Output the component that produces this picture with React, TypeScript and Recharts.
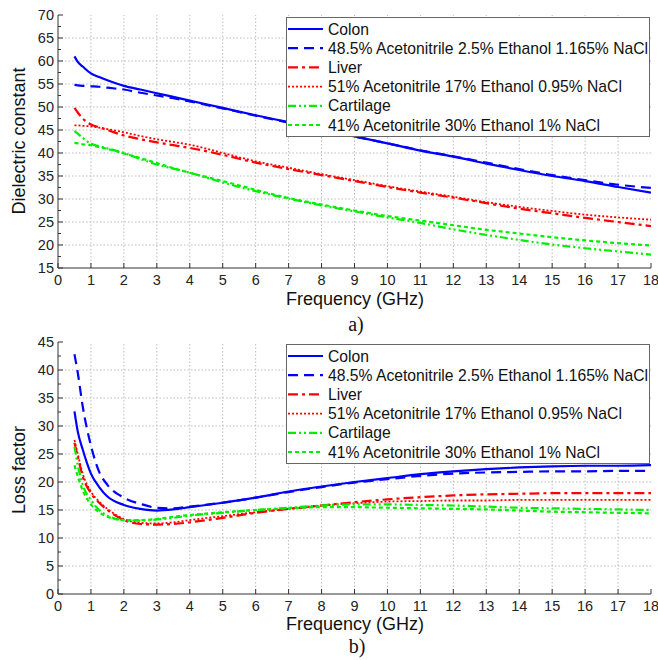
import React from 'react';
import { LineChart, Line, XAxis, YAxis, ReferenceLine } from 'recharts';

// frequency samples (GHz), shared by both panels
const FREQ = [0.5, 0.6, 0.75, 1, 1.25, 1.5, 2, 2.5, 3, 3.5, 4, 5, 6, 7, 8, 9, 10, 11, 12, 13, 14, 15, 16, 17, 18];

const X_TICKS = [0, 1, 2, 3, 4, 5, 6, 7, 8, 9, 10, 11, 12, 13, 14, 15, 16, 17, 18];
const EPS_TICKS = [15, 17.5, 20, 22.5, 25, 27.5, 30, 32.5, 35, 37.5, 40, 42.5, 45, 47.5, 50, 52.5, 55, 57.5, 60, 62.5, 65, 67.5, 70];
const LOSS_TICKS = [0, 2.5, 5, 7.5, 10, 12.5, 15, 17.5, 20, 22.5, 25, 27.5, 30, 32.5, 35, 37.5, 40, 42.5, 45];

// a) dielectric constant
const EPS_COLON = [61, 59.8, 58.8, 57.3, 56.5, 55.8, 54.6, 53.8, 53.0, 52.2, 51.4, 49.8, 48.2, 46.7, 45.1, 43.6, 42.1, 40.5, 39.2, 37.7, 36.3, 35.0, 33.9, 32.6, 31.4];
const EPS_COLON_PH = [54.8, 54.7, 54.6, 54.5, 54.4, 54.2, 53.8, 53.1, 52.5, 51.9, 51.2, 49.7, 48.1, 46.6, 45.1, 43.6, 42.1, 40.6, 39.3, 37.9, 36.5, 35.2, 34.1, 33.1, 32.4];
const EPS_LIVER = [49.8, 48.8, 47.5, 46.2, 45.6, 45, 43.8, 43, 42.3, 41.7, 41.1, 39.6, 37.9, 36.5, 35.2, 33.9, 32.6, 31.4, 30.3, 29.1, 27.9, 26.9, 25.9, 25.0, 24.1];
const EPS_LIVER_PH = [46, 46, 45.9, 45.8, 45.5, 45.2, 44.5, 43.7, 43, 42.4, 41.8, 40, 38.2, 36.8, 35.4, 34.1, 32.8, 31.6, 30.5, 29.3, 28.3, 27.4, 26.6, 26, 25.5];
const EPS_CART = [44.8, 44.2, 43.3, 42, 41.5, 41, 40, 38.7, 37.5, 36.6, 35.7, 33.6, 31.7, 30.1, 28.6, 27.3, 26, 24.8, 23.4, 22.2, 21.1, 20.1, 19.3, 18.6, 17.9];
const EPS_CART_PH = [42.2, 42.1, 41.9, 41.7, 41.3, 40.9, 39.9, 38.9, 37.8, 36.7, 35.7, 33.9, 32, 30.2, 28.8, 27.5, 26.3, 25.3, 24.3, 23.3, 22.5, 21.7, 21, 20.4, 19.9];

// b) loss factor
const LOSS_COLON = [32.6, 29, 25.8, 21.5, 19.1, 17.4, 15.9, 15.2, 14.9, 15.1, 15.5, 16.3, 17.2, 18.3, 19.2, 20, 20.7, 21.4, 21.9, 22.3, 22.6, 22.8, 22.9, 22.9, 23.0];
const LOSS_COLON_PH = [42.8, 39.5, 33.5, 26.5, 21.8, 19.5, 17.2, 16.1, 15.4, 15.3, 15.6, 16.3, 17.2, 18.2, 19.1, 19.9, 20.5, 21.1, 21.5, 21.7, 21.8, 21.9, 21.9, 22, 22];
const LOSS_LIVER = [27, 24.5, 21, 18, 16.3, 15, 13.2, 12.5, 12.4, 12.5, 12.8, 13.6, 14.5, 15.2, 15.8, 16.4, 16.9, 17.3, 17.6, 17.8, 17.9, 18, 18, 18, 18];
const LOSS_LIVER_PH = [27.5, 25, 21.5, 18.3, 16.5, 15.2, 13.4, 12.7, 12.6, 12.8, 13.2, 13.9, 14.6, 15.2, 15.8, 16.2, 16.5, 16.6, 16.7, 16.7, 16.8, 16.8, 16.8, 16.8, 16.8];
const LOSS_CART = [26.3, 23, 19.5, 16.8, 15, 14, 13.2, 13.1, 13.3, 13.6, 14, 14.5, 15, 15.4, 15.8, 16, 16, 15.9, 15.8, 15.6, 15.4, 15.3, 15.2, 15.1, 15];
const LOSS_CART_PH = [23, 21, 18.5, 16, 14.6, 13.8, 13.2, 13.2, 13.4, 13.8, 14.1, 14.6, 15, 15.3, 15.5, 15.5, 15.4, 15.3, 15.2, 15.1, 14.9, 14.7, 14.6, 14.5, 14.4];

const NAMES = [
  'Colon',
  '48.5% Acetonitrile 2.5% Ethanol 1.165% NaCl',
  'Liver',
  '51% Acetonitrile 17% Ethanol 0.95% NaCl',
  'Cartilage',
  '41% Acetonitrile 30% Ethanol 1% NaCl',
];

const SERIES = [
  { key: 's0', color: '#0000ff', dash: undefined, width: 2.2 },
  { key: 's1', color: '#0000ff', dash: '10 6', width: 2.2 },
  { key: 's2', color: '#ff0000', dash: '10 4 3 4', width: 2.2 },
  { key: 's3', color: '#ff0000', dash: '2 2', width: 1.8 },
  { key: 's4', color: '#00ee00', dash: '8 3 2 3 2 3', width: 2.2 },
  { key: 's5', color: '#00ee00', dash: '4 3', width: 2.2 },
];

const buildRows = (cols: number[][]) =>
  FREQ.map((f, i) => {
    const row: Record<string, number> = { f };
    cols.forEach((c, j) => (row['s' + j] = c[i]));
    return row;
  });

const EPS_DATA = buildRows([EPS_COLON, EPS_COLON_PH, EPS_LIVER, EPS_LIVER_PH, EPS_CART, EPS_CART_PH]);
const LOSS_DATA = buildRows([LOSS_COLON, LOSS_COLON_PH, LOSS_LIVER, LOSS_LIVER_PH, LOSS_CART, LOSS_CART_PH]);

const FONT = '"Liberation Sans", Arial, sans-serif';
const AXIS = '#333';
const GRID = '#bdbdbd';
const TICK_FS = 14.5;

const BottomTick = ({ x, y, payload }: any) => (
  <g>
    <line x1={x} x2={x} y1={y} y2={y - 5} stroke={AXIS} />
    <text x={x} y={y + 17} textAnchor="middle" fontSize={TICK_FS} fontFamily={FONT} fill="#222">
      {payload.value}
    </text>
  </g>
);

const TopTick = ({ x, y }: any) => <line x1={x} x2={x} y1={y} y2={y + 5} stroke={AXIS} />;

const LeftTick = ({ x, y, payload }: any) => {
  const major = payload.value % 5 === 0;
  return (
    <g>
      <line x1={x} x2={x + (major ? 5 : 3)} y1={y} y2={y} stroke={AXIS} />
      {major && (
        <text x={x - 4} y={y + 5} textAnchor="end" fontSize={TICK_FS} fontFamily={FONT} fill="#222">
          {payload.value}
        </text>
      )}
    </g>
  );
};

const RightTick = ({ x, y, payload }: any) => {
  const major = payload.value % 5 === 0;
  return <line x1={x} x2={x - (major ? 5 : 3)} y1={y} y2={y} stroke={AXIS} />;
};

// legend box drawn as svg so its frame is crisp
const LegendBox = ({ top }: { top: number }) => (
  <svg width={364} height={120} style={{ position: 'absolute', left: 286, top }}>
    <rect x={0.5} y={0.5} width={363} height={119} fill="#fff" stroke="#666" />
    {SERIES.map((s, i) => {
      const cy = 12 + i * 19.2;
      return (
        <g key={s.key}>
          <line x1={2} x2={37} y1={cy} y2={cy} stroke={s.color} strokeWidth={s.width} strokeDasharray={s.dash} />
          <text x={42} y={cy + 5.5} fontSize={15.7} fontFamily={FONT} fill="#111">
            {NAMES[i]}
          </text>
        </g>
      );
    })}
  </svg>
);

type PanelProps = {
  data: Record<string, number>[];
  yTicks: number[];
  yDomain: [number, number];
  marginTop: number;
  xHeight: number;
};

const Panel = ({ data, yTicks, yDomain, marginTop, xHeight }: PanelProps) => {
  const majorY = yTicks.filter((v) => v % 5 === 0 && v !== yDomain[0] && v !== yDomain[1]);
  const majorX = X_TICKS.filter((v) => v !== 0 && v !== 18);
  return (
    <LineChart width={658} height={330} data={data} margin={{ top: marginTop, right: 7, left: 0, bottom: 0 }}>
      <XAxis
        dataKey="f"
        type="number"
        domain={[0, 18]}
        ticks={X_TICKS}
        interval={0}
        height={xHeight}
        tickSize={0}
        tickMargin={0}
        tickLine={false}
        tick={<BottomTick />}
        axisLine={{ stroke: AXIS }}
        allowDataOverflow
      />
      <XAxis
        xAxisId="top"
        orientation="top"
        type="number"
        domain={[0, 18]}
        ticks={X_TICKS}
        interval={0}
        height={0}
        tickSize={0}
        tickMargin={0}
        tickLine={false}
        tick={<TopTick />}
        axisLine={{ stroke: AXIS }}
        allowDataOverflow
      />
      <YAxis
        type="number"
        domain={yDomain}
        ticks={yTicks}
        interval={0}
        width={58}
        tickSize={0}
        tickMargin={0}
        tickLine={false}
        tick={<LeftTick />}
        axisLine={{ stroke: AXIS }}
        allowDataOverflow
      />
      <YAxis
        yAxisId="right"
        orientation="right"
        type="number"
        domain={yDomain}
        ticks={yTicks}
        interval={0}
        width={0}
        tickSize={0}
        tickMargin={0}
        tickLine={false}
        tick={<RightTick />}
        axisLine={{ stroke: AXIS }}
        allowDataOverflow
      />
      {majorX.map((v) => (
        <ReferenceLine key={'x' + v} x={v} stroke={GRID} strokeDasharray="1.5 2" />
      ))}
      {majorY.map((v) => (
        <ReferenceLine key={'y' + v} y={v} stroke={GRID} strokeDasharray="1.5 2" />
      ))}
      {SERIES.map((s, i) => (
        <Line
          key={s.key}
          dataKey={s.key}
          name={NAMES[i]}
          type="monotone"
          stroke={s.color}
          strokeWidth={s.width}
          strokeDasharray={s.dash}
          dot={false}
          isAnimationActive={false}
        />
      ))}
    </LineChart>
  );
};

const Labels = () => (
  <svg width={658} height={660} style={{ position: 'absolute', left: 0, top: 0, pointerEvents: 'none' }}>
    <g fontFamily={FONT} fontSize={18} fill="#111">
      <text transform="translate(25,141) rotate(-90)" textAnchor="middle">Dielectric constant</text>
      <text transform="translate(25,470) rotate(-90)" textAnchor="middle">Loss factor</text>
      <text x={355} y={305} textAnchor="middle">Frequency (GHz)</text>
      <text x={355} y={630} textAnchor="middle">Frequency (GHz)</text>
    </g>
    <g fontFamily='"Liberation Serif", "Times New Roman", serif' fontSize={20} fill="#111">
      <text x={356} y={331} textAnchor="middle">a)</text>
      <text x={357} y={653} textAnchor="middle">b)</text>
    </g>
  </svg>
);

export default function App() {
  return (
    <div style={{ position: 'absolute', left: 0, top: 0, width: 658, height: 660, background: '#fff' }}>
      <div style={{ position: 'absolute', left: 0, top: 0 }}>
        <Panel data={EPS_DATA} yTicks={EPS_TICKS} yDomain={[15, 70]} marginTop={15} xHeight={62} />
      </div>
      <div style={{ position: 'absolute', left: 0, top: 330 }}>
        <Panel data={LOSS_DATA} yTicks={LOSS_TICKS} yDomain={[0, 45]} marginTop={12} xHeight={66} />
      </div>
      <LegendBox top={17} />
      <LegendBox top={344} />
      <Labels />
    </div>
  );
}
